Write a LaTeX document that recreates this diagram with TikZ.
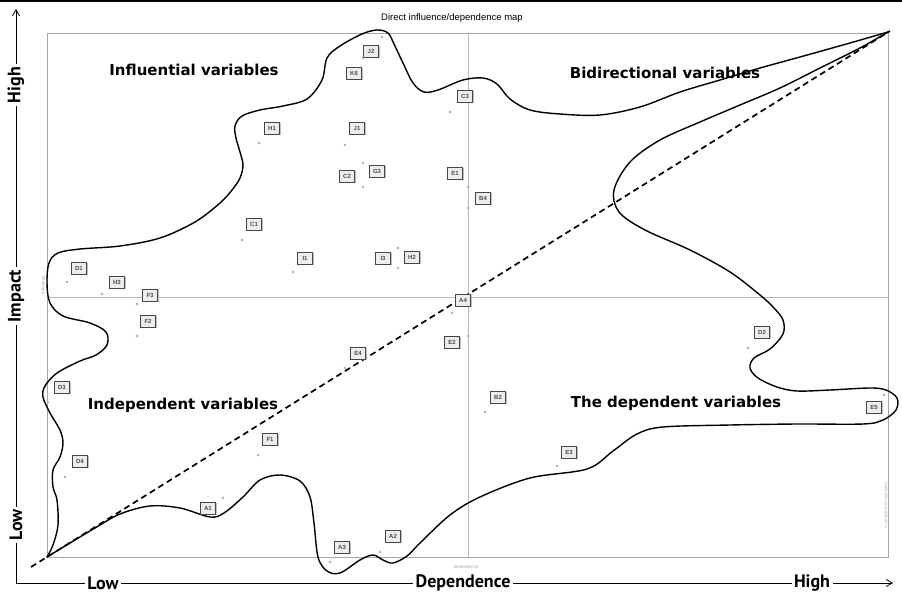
\documentclass[tikz,border=0pt]{standalone}
\usepackage{fontspec}
\setmainfont{DejaVu Sans}
\newfontfamily\axisfont{PT Sans}
\newfontfamily\smallfont{Liberation Sans}
\usetikzlibrary{shadows,arrows.meta}

\begin{document}
\begin{tikzpicture}[x=1pt,y=-1pt,
  frame/.style={draw=gray!70, line width=0.7pt},
  midline/.style={draw=gray!55, line width=0.5pt},
  zone/.style={draw=black, line width=1.4pt, line cap=round, line join=round},
  diag/.style={draw=black, line width=1.7pt, dash pattern=on 6pt off 4pt},
  quad/.style={font=\fontsize{15}{18}\selectfont\bfseries, inner sep=0pt},
  axisline/.style={draw=black, line width=0.8pt},
  axislabel/.style={font=\axisfont\fontsize{18}{20}\selectfont\bfseries, fill=white, inner sep=2.5pt},
  var/.style={draw=gray!55!black, fill=gray!14, line width=0.6pt,
    minimum width=15pt, minimum height=12pt, inner sep=0pt,
    font=\smallfont\fontsize{6}{6}\selectfont\bfseries, text=gray!60!black,
    drop shadow={shadow xshift=1.3pt, shadow yshift=-1.3pt, fill=gray!55, opacity=0.9}},
  pt/.style={circle, fill=gray!65, inner sep=0pt, minimum size=2.8pt},
  tinytext/.style={font=\smallfont\fontsize{4.5}{5}\selectfont, text=gray!70, inner sep=0pt}
]
\useasboundingbox (0,0) rectangle (902,594);
\fill[white] (0,0) rectangle (902,594);

% top rule and title
\coordinate (ruleL) at (0,1.5);
\coordinate (ruleR) at (902,1.5);
\draw[black, line width=2pt] (ruleL) -- (ruleR);
\node[font=\smallfont\fontsize{9.5}{11}\selectfont] (title) at (452,18) {Direct influence/dependence map};

% plotting frame and quadrant lines
\draw[frame] (47,33) rectangle (888,557);
\draw[midline] (468,33) -- (468,557);
\draw[midline] (47,297) -- (888,297);
\node[tinytext, rotate=90] (infl) at (43,285) {influence};
\node[tinytext] (dep) at (466,567) {dependence};
\node[tinytext, rotate=90, font=\smallfont\fontsize{3.8}{4}\selectfont] (copy) at (886,505) {\textcopyright{} LIPSOR-EPITA-MICMAC};

% diagonal
\coordinate (dA) at (31,567);
\coordinate (dB) at (890,31);
\draw[diag] (dA) -- (dB);

% contour of the variable cloud
\draw[zone] plot[smooth, tension=0.55] coordinates {
 (47,557) (53,545) (58,525) (57,500) (53,487) (53,470) (60,457) (63,443)
 (60,430) (50,413) (43,397) (45,386) (57,373) (80,361) (96,355) (107,345)
 (106,332) (90,323) (63,316) (50,303) (47,283) (49,263) (58,253) (80,249)
 (120,246) (160,238) (195,222) (220,203) (232,190) (240,178) (243,165)
 (240,152) (236,138) (235,126) (242,116) (260,110) (283,106) (307,99)
 (322,80) (327,58) (340,46) (362,34) (377,30) (388,33) (394,44) (403,63)
 (413,83) (424,92) (438,90) (463,80) (483,78) (497,84) (510,99) (530,110)
 (560,114) (600,115) (640,107) (680,92) (720,80) (760,68) (800,57) (850,43) (888,32)};
\draw[zone] plot[smooth, tension=0.55] coordinates {
 (888,32) (860,48) (820,68) (780,88) (740,105) (700,122) (660,140) (630,162)
 (614,190) (619,212) (645,230) (690,250) (730,272) (760,295) (774,308)
 (783,320) (783,334) (770,349) (754,358) (750,368) (758,378) (777,387)
 (797,391) (830,390) (870,388) (886,390) (897,398) (896,410) (883,420)
 (863,424) (797,424) (730,425) (663,427) (637,434) (613,451) (587,469)
 (530,478) (480,497) (450,515) (420,543) (407,556) (393,563) (383,560)
 (373,555) (360,560) (340,573) (327,571) (318,557) (314,523) (310,497)
 (300,481) (280,475) (260,480) (243,497) (224,513) (210,517) (180,508)
 (150,506) (120,514) (95,528) (70,543) (47,557)};

% quadrant titles
\node[quad] (qTL) at (194,70) {Influential variables};
\node[quad] (qTR) at (665,73) {Bidirectional variables};
\node[quad] (qBL) at (183,405) {Independent variables};
\node[quad] (qBR) at (676,403) {The dependent variables};

% variables: label box and plotted point
\foreach \lab/\bx/\by/\px/\py in {
  J2/371/51/382/37, K6/354/73/363/58, C3/465/96/450/112, H1/272/128/259/143,
  J1/357/128/345/145, C2/347/176/363/187, G3/377/171/363/163, E1/455/173/468/187,
  B4/483/198/468/208, C1/254/224/242/240, I1/305/258/293/272, I3/383/258/398/248,
  H2/412/257/398/268, D1/79/268/67/282, H3/117/282/102/294, F3/150/295/137/304,
  F2/148/321/137/336, A4/463/300/452/313, E2/452/342/468/336, E4/358/353/345/368,
  B2/498/397/485/412, D2/762/332/748/348, E5/874/407/884/395, E3/569/452/557/466,
  D3/62/387/48/402, D4/80/461/65/477, F1/270/439/258/455, A1/208/508/223/498,
  A3/342/547/330/562, A2/393/536/380/552} {
  \node[pt] (p\lab) at (\px,\py) {};
  \node[var] (v\lab) at (\bx,\by) {\lab};
}

% axes
\coordinate (ax0) at (16,583);
\coordinate (axT) at (16,9);
\coordinate (axR) at (893,583);
\draw[axisline, -{Straight Barb[length=6pt,width=7pt]}] (ax0) -- (axT);
\draw[axisline, -{Straight Barb[length=6pt,width=7pt]}] (ax0) -- (axR);
\node[axislabel, rotate=90] (yHigh) at (16,85) {High};
\node[axislabel, rotate=90] (yImp) at (16,296) {Impact};
\node[axislabel, rotate=90] (yLow) at (16,525) {Low};
\node[axislabel] (xLow) at (103,583) {Low};
\node[axislabel] (xDep) at (463,583) {Dependence};
\node[axislabel] (xHigh) at (812,583) {High};
\end{tikzpicture}
\end{document}
